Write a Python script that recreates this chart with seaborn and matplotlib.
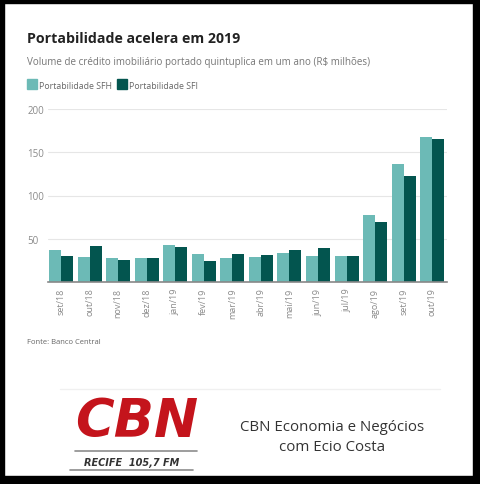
import matplotlib
matplotlib.use("Agg")
import matplotlib.pyplot as plt
from matplotlib.patches import Rectangle
import seaborn as sns
import pandas as pd

# data (R$ milhoes)
months = ["set/18", "out/18", "nov/18", "dez/18", "jan/19", "fev/19", "mar/19",
          "abr/19", "mai/19", "jun/19", "jul/19", "ago/19", "set/19", "out/19"]
sfh = [37, 29, 28, 27.5, 42.5, 32, 27.5, 29, 33.5, 30.5, 30.5, 77.5, 136, 167.5]
sfi = [30, 42, 25, 27.5, 40.5, 24, 32.5, 31, 37, 39, 29.5, 69, 123, 165.5]
series = ["Portabilidade SFH", "Portabilidade SFI"]
yticks = [50, 100, 150, 200]

df = pd.DataFrame({
    "mes": months * 2,
    "valor": sfh + sfi,
    "serie": [series[0]] * len(months) + [series[1]] * len(months),
})

c_sfh = "#6cbab6"
c_sfi = "#03554f"
grey = "#8a8a8a"

sns.set_theme(style="white")
plt.rcParams["font.family"] = ["Open Sans", "DejaVu Sans"]

W, H = 481, 485
fig = plt.figure(figsize=(W / 100, H / 100), dpi=100)
fig.patch.set_facecolor("white")

def fx(px):
    return px / W

def fy(py):
    return 1 - py / H

ax = fig.add_axes([fx(48), fy(283), fx(447) - fx(48), fy(110) - fy(283)])
sns.barplot(data=df, x="mes", y="valor", hue="serie", order=months,
            hue_order=series, palette=[c_sfh, c_sfi], width=0.84,
            saturation=1, legend=False, linewidth=0, ax=ax)
ax.set_xlim(-0.46, 13.52)
ax.set_ylim(0, 200)
ax.set_xlabel("")
ax.set_ylabel("")
ax.set_yticks(yticks)
ax.set_yticklabels([str(v) for v in yticks], color=grey, fontsize=7)
ax.tick_params(axis="y", length=0, pad=15)
ax.tick_params(axis="x", length=0, pad=4, labelrotation=90, labelsize=6.5,
               colors=grey)
for lab in ax.get_yticklabels():
    lab.set_horizontalalignment("left")
ax.yaxis.grid(True, color="#e6e6e6", linewidth=0.8)
ax.set_axisbelow(True)
for s in ["top", "right", "left"]:
    ax.spines[s].set_visible(False)
ax.spines["bottom"].set_color("#888888")
ax.spines["bottom"].set_linewidth(1.2)

# titles
fig.text(fx(27), fy(43), "Portabilidade acelera em 2019", fontsize=10.2,
         fontweight="bold", color="#222222", ha="left", va="baseline")
fig.text(fx(27), fy(65), "Volume de crédito imobiliário portado quintuplica em um ano (R$ milhões)",
         fontsize=7.1, color="#777777", ha="left", va="baseline")

# legend
for (x0, name, col) in [(27, series[0], c_sfh), (117, series[1], c_sfi)]:
    fig.patches.append(Rectangle((fx(x0), fy(90)), fx(10), fy(80) - fy(90),
                                 transform=fig.transFigure, color=col))
    fig.text(fx(x0 + 12), fy(89), name, fontsize=6.3, color="#666666",
             ha="left", va="baseline")

fig.text(fx(27), fy(344), "Fonte: Banco Central", fontsize=5.5, color="#666666",
         ha="left", va="baseline")

# logo area
fig.add_artist(plt.Line2D([fx(60), fx(440)], [fy(390), fy(390)],
                          color="#f0f0f0", linewidth=1))
fig.text(fx(75), fy(437), "CBN", fontsize=38, fontweight="heavy",
         fontstyle="italic", color="#c4141c", ha="left", va="baseline",
         family="DejaVu Sans")
fig.add_artist(plt.Line2D([fx(75), fx(197)], [fy(452), fy(452)],
                          color="#8c8c8c", linewidth=1.2))
fig.add_artist(plt.Line2D([fx(70), fx(193)], [fy(471), fy(471)],
                          color="#8c8c8c", linewidth=1.2))
fig.text(fx(132), fy(466), "RECIFE  105,7 FM", fontsize=7, fontweight="bold",
         fontstyle="italic", color="#333333", ha="center", va="baseline",
         family="DejaVu Sans")
fig.text(fx(332), fy(431), "CBN Economia e Negócios", fontsize=10.8,
         color="#333333", ha="center", va="baseline")
fig.text(fx(332), fy(451), "com Ecio Costa", fontsize=10.8,
         color="#333333", ha="center", va="baseline")

# black frame
for (x0, y0, w, h) in [(0, 0, 481, 4), (0, 0, 4, 485), (473, 0, 8, 485),
                       (0, 477, 481, 8)]:
    fig.patches.append(Rectangle((fx(x0), fy(y0 + h)), fx(w), fy(y0) - fy(y0 + h),
                                 transform=fig.transFigure, color="black"))

fig.savefig("out.png", dpi=100)
